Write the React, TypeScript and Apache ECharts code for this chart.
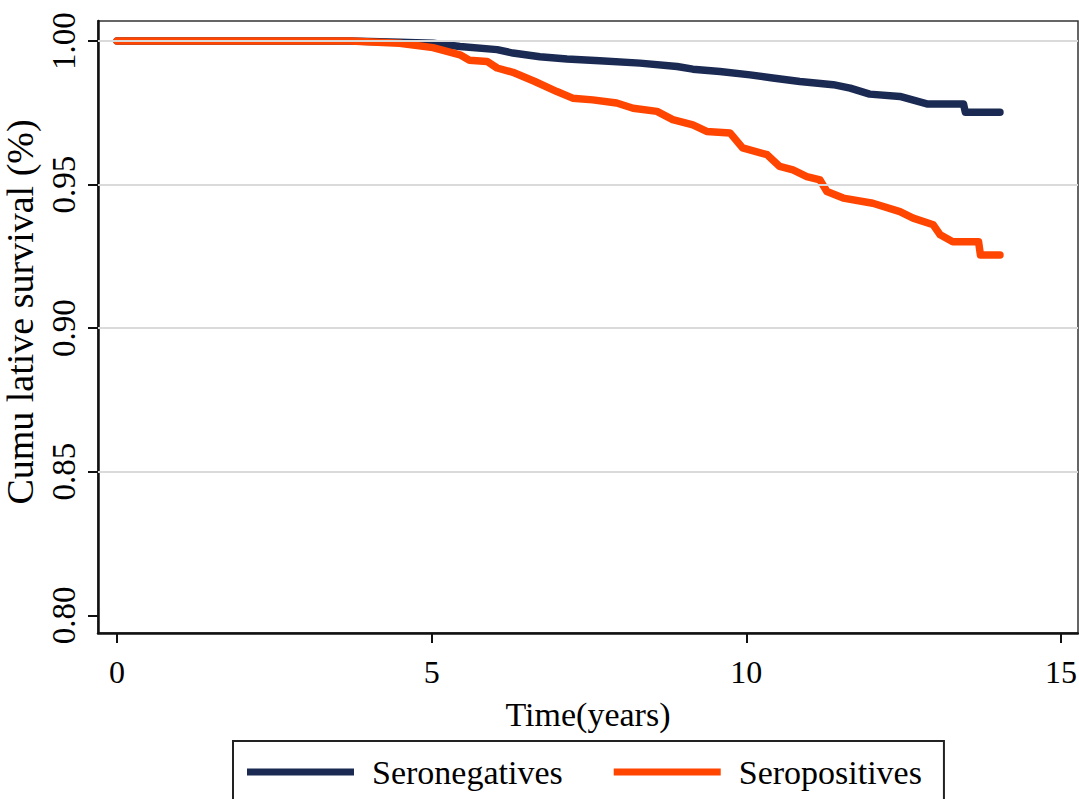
import React, { useEffect, useRef } from "react";
import * as echarts from "echarts";

const negTime = [0, 3.7, 4.49, 5.02, 5.45, 6.04, 6.29, 6.72, 7.15, 7.67, 8.31, 8.9, 9.15, 9.58, 10.06, 10.42, 10.85, 11.38, 11.65, 11.96, 12.44, 12.87, 13.45, 13.48, 14.03];
const negSurv = [1, 1, 0.9996, 0.9992, 0.9981, 0.997, 0.9958, 0.9945, 0.9937, 0.9931, 0.9923, 0.9911, 0.9902, 0.9894, 0.9882, 0.9871, 0.9859, 0.9848, 0.9836, 0.9815, 0.9807, 0.9781, 0.9781, 0.9752, 0.9752];

const posTime = [0, 3.7, 4.49, 5.02, 5.45, 5.6, 5.88, 6.04, 6.29, 6.64, 6.99, 7.24, 7.56, 7.94, 8.2, 8.58, 8.83, 9.15, 9.37, 9.74, 9.94, 10.33, 10.53, 10.74, 10.96, 11.17, 11.28, 11.54, 12.01, 12.44, 12.65, 12.97, 13.08, 13.28, 13.69, 13.72, 14.03];
const posSurv = [1, 1, 0.9992, 0.9977, 0.9952, 0.9933, 0.9929, 0.9906, 0.9891, 0.9859, 0.9824, 0.9801, 0.9795, 0.9784, 0.9766, 0.9755, 0.9726, 0.9708, 0.9685, 0.968, 0.9628, 0.9604, 0.9563, 0.9551, 0.9528, 0.9516, 0.9476, 0.9453, 0.9435, 0.9406, 0.9383, 0.936, 0.9325, 0.9301, 0.9301, 0.9255, 0.9255];

const seriesNames = ["Seronegatives", "Seropositives"];
const xTicks = [0, 5, 10, 15];
const yTicks = [0.8, 0.85, 0.9, 0.95, 1.0];
const gridValues = [0.85, 0.9, 0.95, 1.0];

const FONT = '"Liberation Serif", "Times New Roman", serif';
const NAVY = "#1b2a52";
const ORANGE = "#ff4500";

export default function App() {
  const ref = useRef<HTMLDivElement>(null);
  useEffect(() => {
    if (!ref.current) return;
    const chart = echarts.init(ref.current, null, { renderer: "svg" });
    const negData = negTime.map((t, i) => [t, negSurv[i]]);
    const posData = posTime.map((t, i) => [t, posSurv[i]]);
    chart.setOption({
      animation: false,
      backgroundColor: "#fff",
      grid: {
        left: 98,
        top: 21,
        right: 1,
        bottom: 166,
        show: true,
        borderColor: "#333",
        borderWidth: 1.5,
        outerBoundsMode: "none",
      },
      xAxis: {
        type: "value",
        min: -0.302,
        max: 15.27,
        name: "Time(years)",
        nameLocation: "middle",
        nameGap: 64,
        nameTextStyle: { fontFamily: FONT, fontSize: 34, color: "#000" },
        axisLine: { show: true, onZero: false, lineStyle: { color: "#111", width: 2.5 } },
        axisTick: { show: true, length: 10, customValues: xTicks, lineStyle: { color: "#111", width: 2 } },
        axisLabel: { customValues: xTicks, margin: 23, fontFamily: FONT, fontSize: 32, color: "#000" },
        splitLine: { show: false },
      },
      yAxis: {
        type: "value",
        min: 0.79383,
        max: 1.00697,
        name: "Cumu lative survival (%)",
        nameLocation: "middle",
        nameGap: 52,
        nameTextStyle: { fontFamily: FONT, fontSize: 38, color: "#000", padding: [0, 0, 0, 30] },
        axisLine: { show: true, onZero: false, lineStyle: { color: "#111", width: 2.5 } },
        axisTick: { show: true, length: 10, customValues: yTicks, lineStyle: { color: "#111", width: 2 } },
        axisLabel: {
          customValues: yTicks,
          rotate: 90,
          margin: 18,
          fontFamily: FONT,
          fontSize: 33,
          color: "#000",
          formatter: (v: number) => v.toFixed(2),
        },
        splitLine: { show: false },
      },
      legend: {
        left: 233,
        top: 741,
        orient: "horizontal",
        padding: [11, 22, 40, 14],
        borderColor: "#222",
        borderWidth: 2,
        itemWidth: 107,
        itemHeight: 7,
        itemGap: 51,
        icon: "rect",
        data: seriesNames,
        textStyle: { fontFamily: FONT, fontSize: 34, color: "#000", lineHeight: 40, padding: [0, 0, 0, 13] },
      },
      series: [
        {
          name: "grid",
          type: "line",
          data: [],
          z: 1,
          silent: true,
          markLine: {
            silent: true,
            symbol: "none",
            label: { show: false },
            lineStyle: { color: "#dadada", width: 2, type: "solid" },
            data: gridValues.map((v) => ({ yAxis: v })),
          },
        },
        {
          name: seriesNames[0],
          type: "line",
          data: negData,
          z: 3,
          showSymbol: false,
          symbol: "none",
          color: NAVY,
          lineStyle: { color: NAVY, width: 7.5, cap: "round", join: "round" },
        },
        {
          name: seriesNames[1],
          type: "line",
          data: posData,
          z: 4,
          showSymbol: false,
          symbol: "none",
          color: ORANGE,
          lineStyle: { color: ORANGE, width: 7.5, cap: "round", join: "round" },
        },
      ],
    });
    return () => chart.dispose();
  }, []);
  return (
    <div
      ref={ref}
      style={{ position: "absolute", left: 0, top: 0, width: 1079, height: 799 }}
    />
  );
}
